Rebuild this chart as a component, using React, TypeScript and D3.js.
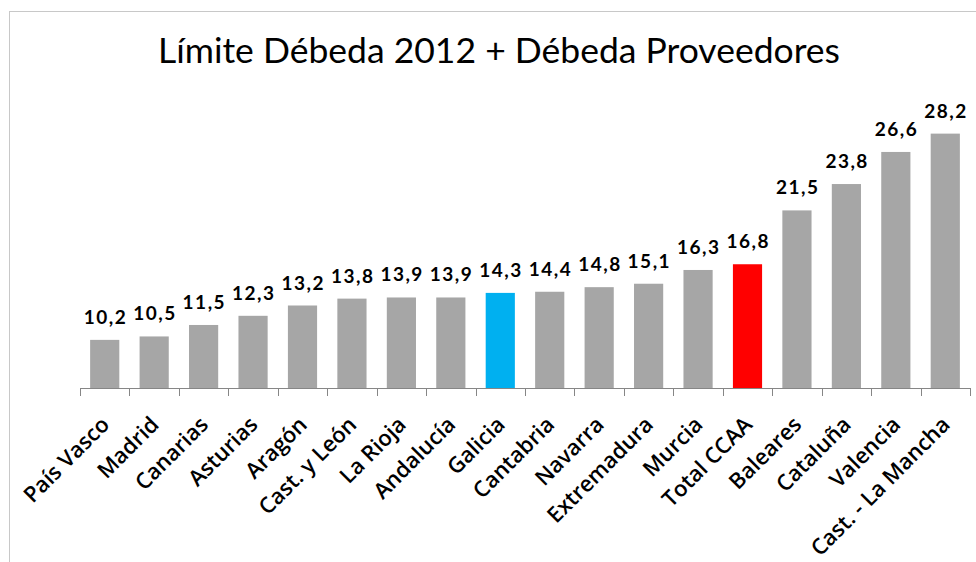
import React from "react";
import * as d3 from "d3";

const categories = [
  "País Vasco", "Madrid", "Canarias", "Asturias", "Aragón", "Cast. y León",
  "La Rioja", "Andalucía", "Galicia", "Cantabria", "Navarra", "Extremadura",
  "Murcia", "Total CCAA", "Baleares", "Cataluña", "Valencia", "Cast. - La Mancha",
];
const values = [
  10.2, 10.5, 11.5, 12.3, 13.2, 13.8, 13.9, 13.9, 14.3, 14.4, 14.8, 15.1,
  16.3, 16.8, 21.5, 23.8, 26.6, 28.2,
];
const highlight: Record<string, string> = { Galicia: "#00B0F0", "Total CCAA": "#FF0000" };

const W = 976;
const H = 562;
const baseY = 388;

const App = () => {
  const x = d3.scaleBand<string>().domain(categories).range([80, 970]).paddingInner(0.41).paddingOuter(0.205);
  const y = d3.scaleLinear().domain([6, 30]).range([baseY, 113]);
  const edges = d3.range(categories.length + 1).map(i => 80 + i * x.step());
  const fmt = (v: number) => v.toFixed(1).replace(".", ",");

  return (
    <svg width={W} height={H} style={{ position: "absolute", left: 0, top: 0, background: "#fff" }}>
      <rect x={9.5} y={11.5} width={1000} height={600} fill="none" stroke="#c8c8c8" />
      <text x={499} y={63} textAnchor="middle" fontFamily="Lato, sans-serif" fontSize={35.5} fill="#000">
        Límite Débeda 2012 + Débeda Proveedores
      </text>
      {categories.map((c, i) => (
        <rect key={c} x={x(c)} y={y(values[i])} width={x.bandwidth()} height={baseY - y(values[i])}
          fill={highlight[c] || "#A6A6A6"} />
      ))}
      <line x1={80} x2={970} y1={baseY + 0.5} y2={baseY + 0.5} stroke="#868686" />
      {edges.map((e, i) => (
        <line key={i} x1={Math.round(e) + 0.5} x2={Math.round(e) + 0.5} y1={baseY} y2={baseY + 8} stroke="#868686" />
      ))}
      {categories.map((c, i) => (
        <text key={c} x={x(c)! + x.bandwidth() / 2 + 0.75} y={y(values[i]) - 16} textAnchor="middle"
          fontFamily="Lato, sans-serif" fontWeight="bold" fontSize={19} letterSpacing={1.5} fill="#000">
          {fmt(values[i])}
        </text>
      ))}
      {categories.map(c => {
        const cx = x(c)! + x.bandwidth() / 2 + 6;
        const cy = baseY + 38;
        return (
          <text key={c} transform={`translate(${cx},${cy}) rotate(-45)`} textAnchor="end"
            fontFamily="'Open Sans', sans-serif" fontWeight={600} fontSize={22} fill="#000">
            {c}
          </text>
        );
      })}
    </svg>
  );
};

export default App;
